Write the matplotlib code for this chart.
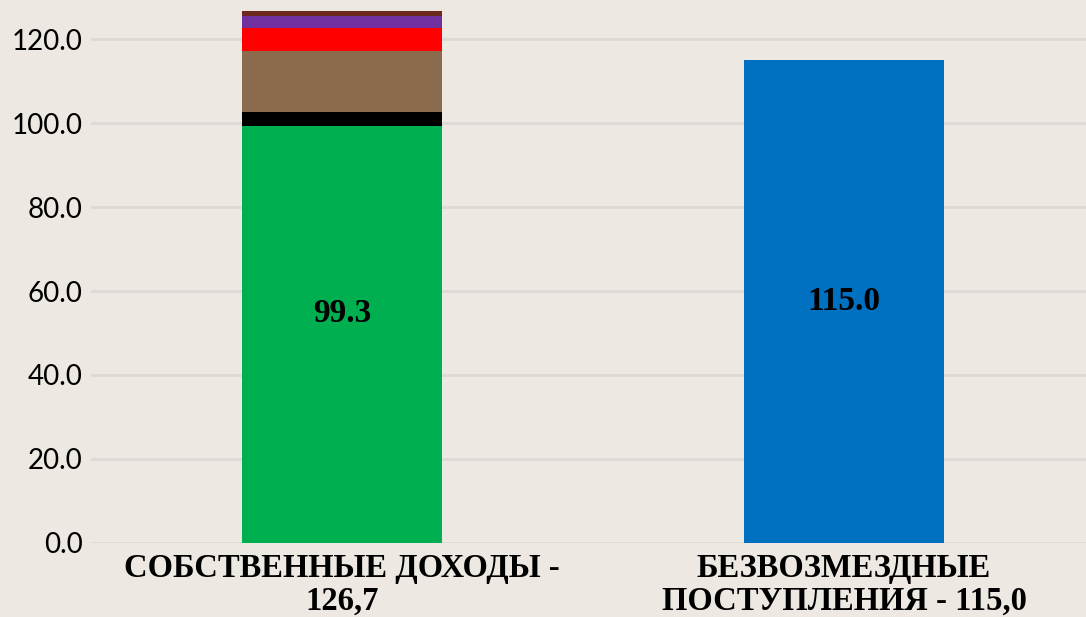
import matplotlib.pyplot as plt
import numpy as np

categories = ['СОБСТВЕННЫЕ ДОХОДЫ -\n126,7', 'БЕЗВОЗМЕЗДНЫЕ\nПОСТУПЛЕНИЯ - 115,0']

# segments of the first bar, bottom to top
own_parts = [99.3, 3.3, 14.5, 5.6, 2.8, 1.2]
own_colors = ['#00B050', '#000000', '#8B6A4E', '#FF0000', '#7030A0', '#6B2A1B']
transfers = 115.0

bg = '#EDE9E2'
fig = plt.figure(figsize=(10.86, 6.17), dpi=100, facecolor=bg)
ax = fig.add_axes([0.0838, 0.12, 0.9162, 0.88], facecolor=bg)

x = np.arange(len(categories))
bottom = 0
for val, col in zip(own_parts, own_colors):
    ax.bar(x[0], val, width=0.4, bottom=bottom, color=col, zorder=3)
    bottom += val
ax.bar(x[1], transfers, width=0.4, color='#0070C0', zorder=3)

lab_font = dict(family='Liberation Serif', fontweight='bold', fontsize=24, ha='center', va='center')
ax.text(x[0], own_parts[0] / 2 + 5, f'{own_parts[0]:.1f}', **lab_font, zorder=4)
ax.text(x[1], transfers / 2, f'{transfers:.1f}', **lab_font, zorder=4)

ax.set_ylim(0, 129.3)
ax.set_xlim(-0.5, 1.482)
ax.set_yticks(np.arange(0, 121, 20))
ax.set_yticklabels([f'{v:.1f}' for v in np.arange(0, 121, 20)], family='Lato', fontsize=20)
ax.set_xticks(x)
ax.set_xticklabels(categories, family='Liberation Serif', fontweight='bold', fontsize=23.5, linespacing=1.05)
ax.tick_params(axis='both', length=0)
ax.tick_params(axis='y', pad=6)
ax.tick_params(axis='x', pad=7.5)
ax.grid(axis='y', color='#DCDAD6', linewidth=2, zorder=0)
for s in ax.spines.values():
    s.set_visible(False)

fig.savefig('out.png', facecolor=bg)
